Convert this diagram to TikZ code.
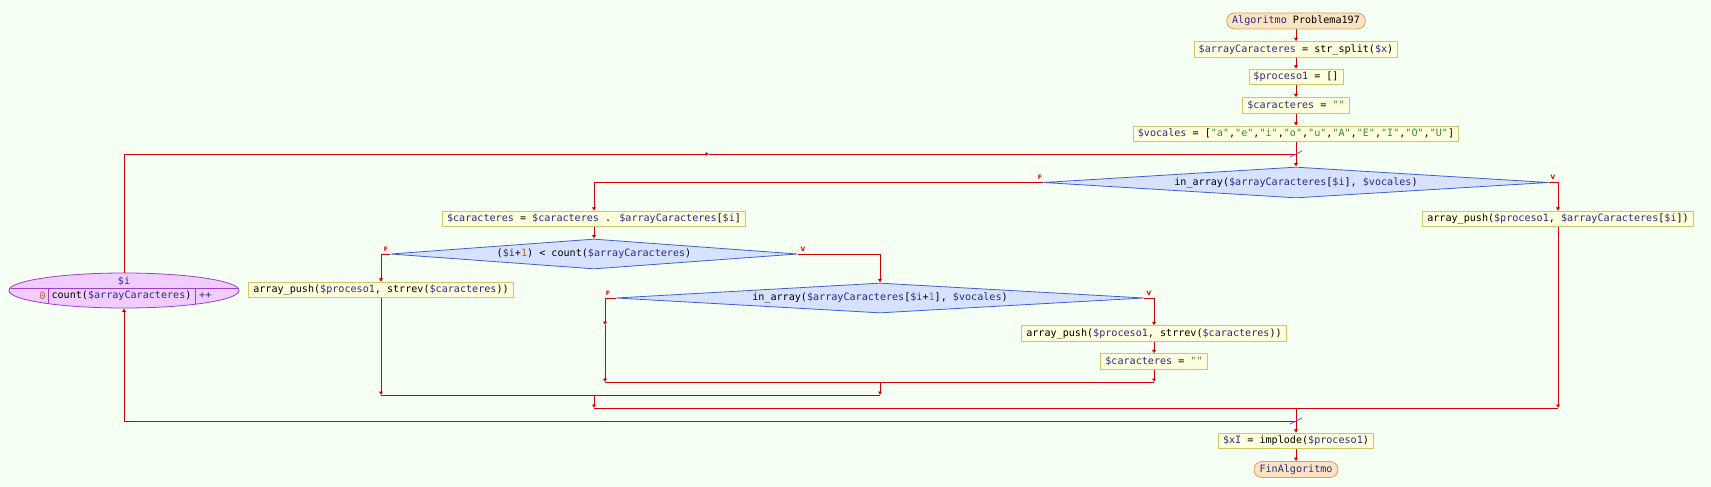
\documentclass[tikz,border=0pt]{standalone}
\usepackage{fontspec}
\newfontfamily\pmono{DejaVu Sans Mono}
\newfontfamily\plab{DejaVu Sans}
\usetikzlibrary{shapes.geometric,arrows.meta,calc}
\definecolor{bgc}{HTML}{F6FFF3}
\definecolor{procf}{HTML}{FFFFDD}
\definecolor{procd}{HTML}{C9C96A}
\definecolor{decf}{HTML}{D6E2FF}
\definecolor{decd}{HTML}{3F5FD0}
\definecolor{termf}{HTML}{FCE4C2}
\definecolor{termd}{HTML}{D6A25E}
\definecolor{forf}{HTML}{F1CCFF}
\definecolor{ford}{HTML}{9A40CC}
\definecolor{flowc}{HTML}{D00000}
\definecolor{slashc}{HTML}{9040E0}
\definecolor{varc}{HTML}{2A2A8C}
\definecolor{strc}{HTML}{3A8A3A}
\definecolor{numc}{HTML}{C0602A}
\newcommand\pvar[1]{\textcolor{varc}{#1}}
\newcommand\pstr[1]{\textcolor{strc}{#1}}
\newcommand\pnum[1]{\textcolor{numc}{#1}}
\newcommand\pq{\char34\relax}
\tikzset{
  codefont/.style={font=\pmono\fontsize{10.1}{12}\selectfont},
  proc/.style={codefont, draw=procd, fill=procf, line width=0.8pt, inner xsep=4.5pt, inner ysep=0pt, minimum height=15.5pt, text height=7.5pt, text depth=2pt},
  decis/.style={codefont, diamond, draw=decd, fill=decf, line width=0.8pt, inner sep=0pt, shape aspect=16},
  term/.style={codefont, draw=termd, fill=termf, line width=0.8pt, rounded corners=8pt, inner xsep=5.5pt, inner ysep=0pt, minimum height=16pt, text height=7.5pt, text depth=2pt},
  forel/.style={ellipse, draw=ford, fill=forf, line width=0.8pt, inner sep=0pt},
  fortxt/.style={codefont, inner sep=0pt},
  flow/.style={draw=flowc, line width=0.9pt},
  arr/.style={-{Latex[length=3.5pt,width=4.5pt]}},
  lbl/.style={text=flowc, font=\plab\bfseries\fontsize{6}{6}\selectfont, inner sep=0pt},
  slash/.style={draw=slashc, line width=0.8pt}
}
\begin{document}
\begin{tikzpicture}[x=1pt,y=-1pt]
\useasboundingbox[fill=bgc] (0,0) rectangle (1711,487);

% nodes
\node[term] (start) at (1296,21) {\pvar{Algoritmo} Problema197};
\node[proc] (b1) at (1296,49.5) {\pvar{\$arrayCaracteres} = str\_split(\pvar{\$x})};
\node[proc] (b2) at (1296,77) {\pvar{\$proceso1} = []};
\node[proc] (b3) at (1296,105.5) {\pvar{\$caracteres} = \pstr{\pq\pq}};
\node[proc] (b4) at (1296,134) {\pvar{\$vocales} = [\pstr{\pq a\pq},\pstr{\pq e\pq},\pstr{\pq i\pq},\pstr{\pq o\pq},\pstr{\pq u\pq},\pstr{\pq A\pq},\pstr{\pq E\pq},\pstr{\pq I\pq},\pstr{\pq O\pq},\pstr{\pq U\pq}]};
\node[decis, minimum width=505pt, minimum height=31pt] (d1) at (1296,182.5) {in\_array(\pvar{\$arrayCaracteres}[\pvar{\$i}], \pvar{\$vocales})};
\node[proc] (b5) at (594,219) {\pvar{\$caracteres} = \pvar{\$caracteres} . \pvar{\$arrayCaracteres}[\pvar{\$i}]};
\node[proc] (b6) at (1558,219) {array\_push(\pvar{\$proceso1}, \pvar{\$arrayCaracteres}[\pvar{\$i}])};
\node[decis, minimum width=407pt, minimum height=30pt] (d2) at (594,254) {(\pvar{\$i}+\pnum{1}) < count(\pvar{\$arrayCaracteres})};
\node[proc] (b7) at (381,290) {array\_push(\pvar{\$proceso1}, strrev(\pvar{\$caracteres}))};
\node[decis, minimum width=528pt, minimum height=30pt] (d3) at (880,298) {in\_array(\pvar{\$arrayCaracteres}[\pvar{\$i}+\pnum{1}], \pvar{\$vocales})};
\node[proc] (b8) at (1154,333.5) {array\_push(\pvar{\$proceso1}, strrev(\pvar{\$caracteres}))};
\node[proc] (b9) at (1154,361.5) {\pvar{\$caracteres} = \pstr{\pq\pq}};
\node[proc] (b10) at (1296,441) {\pvar{\$xI} = implode(\pvar{\$proceso1})};
\node[term] (fin) at (1296,469.5) {\pvar{FinAlgoritmo}};

% for loop ellipse
\node[forel, minimum width=230pt, minimum height=35pt] (fl) at (124,290.5) {};
\draw[draw=ford, line width=0.8pt] (10.5,288) -- (237.5,288);
\draw[draw=ford, line width=0.8pt] (48,288) -- (48,303.6);
\draw[draw=ford, line width=0.8pt] (195,288) -- (195,304.3);
\node[fortxt] (fli) at (124,281) {\pvar{\$i}};
\node[fortxt, anchor=east] (flz) at (46,296) {\pnum{0}};
\node[fortxt] (flc) at (121.5,296) {count(\pvar{\$arrayCaracteres})};
\node[fortxt, anchor=west] (flp) at (199,296) {\pvar{++}};

% branch labels
\node[lbl] (l1f) at (1040,177) {F};
\node[lbl] (l1v) at (1553,177) {V};
\node[lbl] (l2f) at (386,249) {F};
\node[lbl] (l2v) at (803,249) {V};
\node[lbl] (l3f) at (608,293) {F};
\node[lbl] (l3v) at (1149,293) {V};

% coordinates
\coordinate (j0) at (1296,154);
\coordinate (m3) at (605,325);
\coordinate (j3l) at (605,382);
\coordinate (j3r) at (1154,382);
\coordinate (j3c) at (880,382);
\coordinate (j2l) at (381,395);
\coordinate (j2r) at (880,395);
\coordinate (j2c) at (594,395);
\coordinate (j1l) at (594,408);
\coordinate (j1r) at (1558,408);
\coordinate (j1c) at (1296,408);
\coordinate (j0b) at (1296,421);
\coordinate (lb) at (124,421);
\coordinate (lt) at (124,154);
\coordinate (lm) at (709,154);

% connectors
\draw[flow,arr] (start) -- (b1);
\draw[flow,arr] (b1) -- (b2);
\draw[flow,arr] (b2) -- (b3);
\draw[flow,arr] (b3) -- (b4);
\draw[flow] (b4) -- (j0);
\draw[flow,arr] (j0) -- (d1);
\draw[flow,arr] (d1.west) -| (b5.north);
\draw[flow,arr] (d1.east) -| (b6.north);
\draw[flow,arr] (b5) -- (d2);
\draw[flow,arr] (d2.west) -| (b7.north);
\draw[flow,arr] (d2.east) -| (d3.north);
\draw[flow,arr] (d3.west) -| (m3);
\draw[flow,arr] (m3) -- (j3l);
\draw[flow,arr] (d3.east) -| (b8.north);
\draw[flow,arr] (b8) -- (b9);
\draw[flow,arr] (b9) -- (j3r);
\draw[flow] (j3l) -- (j3r);
\draw[flow,arr] (j3c) -- (j2r);
\draw[flow,arr] (b7) -- (j2l);
\draw[flow] (j2l) -- (j2r);
\draw[flow,arr] (j2c) -- (j1l);
\draw[flow,arr] (b6) -- (j1r);
\draw[flow] (j1l) -- (j1r);
\draw[flow] (j1c) -- (j0b);
\draw[flow,arr] (j0b) -- (b10);
\draw[flow,arr] (b10) -- (fin);
\draw[flow,arr] (j0b) -- (lb) -- (fl.south);
\draw[flow,arr] (fl.north) -- (lt) -- (lm);
\draw[flow] (lm) -- (j0);

% loop crossing marks
\draw[slash] ($(j0)+(-6,3)$) -- ($(j0)+(6,-3)$);
\draw[slash] ($(j0b)+(-6,3)$) -- ($(j0b)+(6,-3)$);
\end{tikzpicture}
\end{document}
